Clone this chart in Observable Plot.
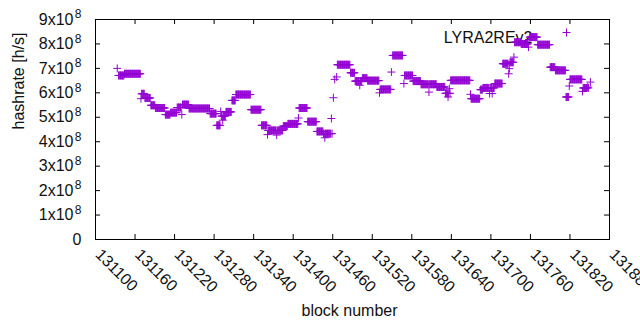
<!DOCTYPE html>
<html>
<head>
<meta charset="utf-8">
<script src="https://cdn.jsdelivr.net/npm/d3@7"></script>
<script src="https://cdn.jsdelivr.net/npm/@observablehq/plot@0.6"></script>
<style>
  html, body { margin: 0; padding: 0; background: white; }
</style>
</head>
<body>
<div id="chart"></div>
<script>
// Runs of consecutive blocks sharing the same hashrate
const runStart = [131133,131135,131144,131169,131170,131175,131184,131191,131206,131214,131224,131231,131232,131242,131274,131284,131290,131291,131293,131294,131298,131307,131313,131336,131352,131361,131362,131375,131376,131385,131392,131408,131409,131422,131436,131446,131448,131449,131458,131459,131461,131463,131466,131467,131487,131494,131501,131502,131505,131513,131531,131532,131549,131551,131568,131569,131582,131594,131606,131607,131618,131631,131635,131636,131637,131638,131639,131669,131670,131684,131688,131698,131699,131702,131703,131706,131718,131727,131728,131729,131735,131736,131746,131757,131758,131759,131771,131790,131798,131814,131819,131820,131839,131840,131847,131848,131851];
const runEnd   = [131133,131143,131168,131169,131174,131183,131190,131205,131213,131223,131230,131231,131241,131273,131283,131289,131290,131292,131293,131297,131306,131312,131335,131351,131360,131361,131374,131375,131384,131391,131407,131408,131421,131435,131445,131447,131448,131457,131458,131459,131461,131463,131466,131486,131493,131500,131501,131504,131512,131530,131531,131548,131549,131566,131568,131581,131593,131605,131606,131617,131630,131634,131635,131636,131637,131638,131668,131669,131683,131687,131697,131698,131701,131702,131705,131717,131726,131727,131728,131734,131735,131745,131756,131757,131758,131770,131789,131797,131813,131818,131819,131838,131839,131846,131847,131848,131851];
const runHash  = [7.0e8,6.71e8,6.78e8,5.76e8,5.96e8,5.79e8,5.49e8,5.38e8,5.11e8,5.19e8,5.40e8,5.11e8,5.52e8,5.36e8,5.15e8,4.67e8,5.24e8,5.05e8,4.88e8,5.05e8,5.22e8,5.69e8,5.93e8,5.31e8,4.67e8,4.29e8,4.46e8,4.27e8,4.46e8,4.64e8,4.73e8,4.97e8,5.38e8,4.82e8,4.42e8,4.33e8,4.16e8,4.33e8,4.95e8,4.33e8,5.8e8,6.55e8,6.65e8,7.15e8,6.82e8,6.48e8,6.31e8,6.48e8,6.6e8,6.5e8,6.0e8,6.14e8,6.85e8,7.53e8,6.38e8,6.71e8,6.48e8,6.35e8,6.03e8,6.35e8,6.24e8,5.98e8,5.83e8,5.98e8,6.17e8,5.98e8,6.51e8,5.94e8,5.76e8,6.13e8,6.2e8,5.97e8,6.2e8,5.97e8,6.2e8,6.38e8,7.19e8,6.78e8,6.99e8,7.25e8,7.46e8,8.07e8,8.0e8,7.87e8,8.18e8,8.28e8,7.97e8,7.05e8,6.92e8,5.83e8,6.28e8,6.55e8,6.06e8,6.2e8,6.24e8,6.2e8,6.44e8];

const xTicks = [131100,131160,131220,131280,131340,131400,131460,131520,131580,131640,131700,131760,131820,131880];
const yTicks = [0,1e8,2e8,3e8,4e8,5e8,6e8,7e8,8e8,9e8];
const yTickMantissa = ["0","1x10","2x10","3x10","4x10","5x10","6x10","7x10","8x10","9x10"];
const yTickExponent = ["","8","8","8","8","8","8","8","8","8"];
const seriesName = "LYRA2REv2";
const xLabel = "block number";
const yLabel = "hashrate [h/s]";

const points = [];
runStart.forEach((s, i) => {
  for (let b = s; b <= runEnd[i]; b++) points.push({block: b, hashrate: runHash[i]});
});

const color = "#9400d3";
const ink = "#111";
const plusSymbol = {
  draw(context, size) {
    const r = Math.sqrt(size / Math.PI);
    context.moveTo(-r, 0); context.lineTo(r, 0);
    context.moveTo(0, -r); context.lineTo(0, r);
  }
};
const font = "Liberation Sans, Arial, sans-serif";
const yTickRows = yTicks.map((v, i) => ({v, m: yTickMantissa[i], e: yTickExponent[i]}));
const yPlain = yTickRows.filter(d => d.e === "");
const yPow = yTickRows.filter(d => d.e !== "");

const chart = Plot.plot({
  width: 640,
  height: 330,
  marginLeft: 95,
  marginRight: 31,
  marginTop: 19,
  marginBottom: 91,
  style: {fontFamily: font, background: "white", overflow: "hidden"},
  x: {domain: [131100, 131880], axis: null},
  y: {domain: [0, 9e8], axis: null},
  marks: [
    // inward ticks on all four sides
    Plot.gridX(xTicks, {stroke: "black", strokeOpacity: 1, insetTop: 215}),
    Plot.gridX(xTicks, {stroke: "black", strokeOpacity: 1, insetBottom: 215}),
    Plot.gridY(yTicks, {stroke: "black", strokeOpacity: 1, insetRight: 509}),
    Plot.gridY(yTicks, {stroke: "black", strokeOpacity: 1, insetLeft: 509}),
    Plot.frame({stroke: "black"}),
    // x tick labels
    Plot.text(xTicks, {x: d => d, frameAnchor: "bottom", text: d => String(d), rotate: 45,
      textAnchor: "start", lineAnchor: "bottom", dy: 16, dx: -1, fontSize: 16, fill: ink}),
    // y tick labels with superscript exponent
    Plot.text(yPow, {y: "v", frameAnchor: "left", text: "m", textAnchor: "end", fontSize: 16, fill: ink, dx: -22}),
    Plot.text(yPow, {y: "v", frameAnchor: "left", text: "e", textAnchor: "end", fontSize: 12, fill: ink, dx: -14, dy: -5}),
    Plot.text(yPlain, {y: "v", frameAnchor: "left", text: "m", textAnchor: "end", fontSize: 16, fill: ink, dx: -14}),
    // axis titles
    Plot.text([yLabel], {frameAnchor: "left", text: d => d, rotate: -90, dx: -77, fontSize: 16, fill: ink}),
    Plot.text([xLabel], {frameAnchor: "bottom", text: d => d, dy: 76, dx: -3, fontSize: 16, fill: ink}),
    // key
    Plot.text([seriesName], {frameAnchor: "top-right", text: d => d, textAnchor: "end", dx: -77, dy: 12, fontSize: 16, fill: ink}),
    Plot.dot([seriesName], {frameAnchor: "top-right", dx: -43, dy: 13, symbol: plusSymbol, r: 4, stroke: color, fill: "none", strokeWidth: 1}),
    // data
    Plot.dot(points, {x: "block", y: "hashrate", symbol: plusSymbol, r: 4, stroke: color, fill: "none", strokeWidth: 1})
  ]
});
document.getElementById("chart").appendChild(chart);
</script>
</body>
</html>
